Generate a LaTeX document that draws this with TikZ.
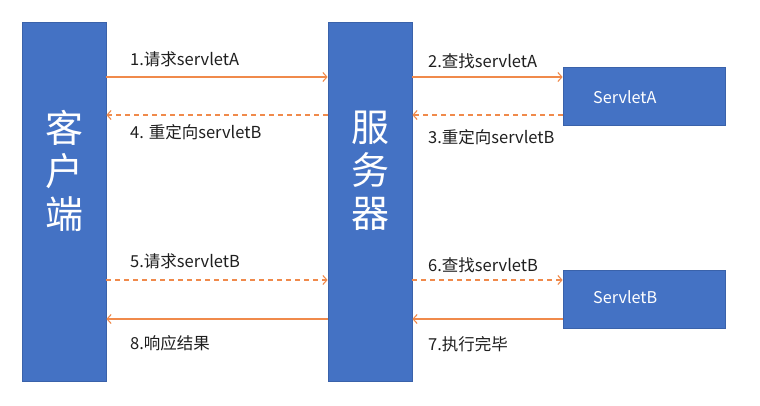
\documentclass[tikz,border=0pt]{standalone}
\usepackage{fontspec}
\setmainfont{Noto Sans CJK SC}
\usetikzlibrary{arrows.meta}
\definecolor{boxblue}{HTML}{4472C4}
\definecolor{boxedge}{HTML}{3A62AA}
\definecolor{arr}{HTML}{F08A4B}
\tikzset{
  bigbox/.style={fill=boxblue,draw=boxedge,line width=0.8pt},
  msg/.style={draw=arr,line width=1.3pt,-{Straight Barb[length=4pt,width=9pt,line width=1.1pt]}},
  dmsg/.style={msg,dash pattern=on 5pt off 4pt},
  lbl/.style={anchor=west,inner sep=0pt,font=\fontsize{16.5}{19}\selectfont,text=black!88},
  boxtxt/.style={anchor=west,inner sep=0pt,text=white,font=\fontsize{16.2}{19}\selectfont},
  bigtxt/.style={text=white,align=center,font=\fontsize{38}{43}\selectfont,inner sep=0pt},
}
\begin{document}
\begin{tikzpicture}[x=1pt,y=-1pt]
\useasboundingbox (0,0) rectangle (760,405);
\fill[white] (0,0) rectangle (760,405);
% boxes
\node[bigbox,minimum width=84pt,minimum height=359pt,inner sep=0pt] (client) at (64,201.5) {};
\node[bigbox,minimum width=84pt,minimum height=359pt,inner sep=0pt] (server) at (370,201.5) {};
\node[bigbox,minimum width=162pt,minimum height=58pt,inner sep=0pt] (sa) at (644,96) {};
\node[bigbox,minimum width=162pt,minimum height=58pt,inner sep=0pt] (sb) at (644,299) {};
\node[bigtxt] (ct) at (64,171) {客\\户\\端};
\node[bigtxt] (st) at (370,171) {服\\务\\器};
\node[boxtxt] (sat) at (593,97) {ServletA};
\node[boxtxt] (sbt) at (593,297) {ServletB};
% connector anchors
\coordinate (c1) at (client.east |- 0,77);
\coordinate (s1) at (server.west |- 0,77);
\coordinate (c4) at (client.east |- 0,115);
\coordinate (s4) at (server.west |- 0,115);
\coordinate (c5) at (client.east |- 0,280);
\coordinate (s5) at (server.west |- 0,280);
\coordinate (c8) at (client.east |- 0,319);
\coordinate (s8) at (server.west |- 0,319);
\coordinate (r2) at (server.east |- 0,77);
\coordinate (a2) at (sa.west |- 0,77);
\coordinate (r3) at (server.east |- 0,115);
\coordinate (a3) at (sa.west |- 0,115);
\coordinate (r6) at (server.east |- 0,280);
\coordinate (b6) at (sb.west |- 0,280);
\coordinate (r7) at (server.east |- 0,319);
\coordinate (b7) at (sb.west |- 0,319);
% arrows
\draw[msg] (c1) -- (s1);
\draw[dmsg] (s4) -- (c4);
\draw[msg] (r2) -- (a2);
\draw[dmsg] (a3) -- (r3);
\draw[dmsg] (c5) -- (s5);
\draw[msg] (s8) -- (c8);
\draw[dmsg] (r6) -- (b6);
\draw[msg] (b7) -- (r7);
% labels
\node[lbl] (l1) at (130,59) {1.请求servletA};
\node[lbl] (l4) at (130,132) {4. 重定向servletB};
\node[lbl] (l2) at (428,61) {2.查找servletA};
\node[lbl] (l3) at (428,137) {3.重定向servletB};
\node[lbl] (l5) at (130,261) {5.请求servletB};
\node[lbl] (l8) at (130,343) {8.响应结果};
\node[lbl] (l6) at (428,265) {6.查找servletB};
\node[lbl] (l7) at (428,344) {7.执行完毕};
\end{tikzpicture}
\end{document}
